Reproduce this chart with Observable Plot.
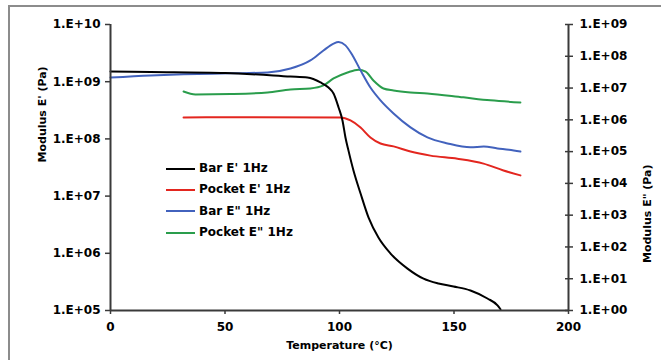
<!DOCTYPE html>
<html><head><meta charset="utf-8">
<script src="https://cdn.jsdelivr.net/npm/d3@7"></script>
<script src="https://cdn.jsdelivr.net/npm/@observablehq/plot@0.6"></script>
<style>
body{margin:0;background:#fff;}
#wrap{position:relative;width:661px;height:360px;overflow:hidden;font-family:"DejaVu Sans",sans-serif;font-weight:bold;background:#fff;}
#frame{position:absolute;left:8px;top:5px;width:700px;height:400px;border-left:2px solid #8c8c8c;border-top:2px solid #8c8c8c;}
#chart{position:absolute;left:0;top:0;}
#legend{position:absolute;left:166px;top:158px;font-size:12px;line-height:21.3px;color:#000;}
.row{display:flex;align-items:center;height:21.3px;}
.sw{width:29px;height:2px;margin-right:4px;}
</style>
</head><body>
<div id="wrap"><div id="frame"></div><div id="chart"></div><div id="legend"></div></div>
<script>
// Temperature (°C) and modulus (Pa) series
const barE1_T = [0,17.5,50.2,78.6,86.0,91.7,95.2,97.4,99.6,101.3,102.6,103.9,106.1,109.2,112.7,117.0,122.3,129.7,136.7,143.2,149.8,157.2,164.6,169.0,170.3];
const barE1_V = [1.51e9,1.48e9,1.42e9,1.23e9,1.18e9,9.7e8,7.9e8,6.2e8,3.54e8,2.1e8,1.06e8,6.3e7,2.8e7,1.11e7,4.2e6,1.89e6,9.9e5,5.4e5,3.6e5,2.96e5,2.63e5,2.24e5,1.62e5,1.23e5,1.05e5];

const pocketE1_T = [31.9,61.1,100.4,104.8,109.2,113.5,117.9,123.6,131.0,139.7,151.5,162.9,171.6,179.0];
const pocketE1_V = [2.37e8,2.4e8,2.37e8,2.1e8,1.58e8,1.06e8,8.3e7,7.4e7,6.0e7,5.1e7,4.5e7,3.7e7,2.8e7,2.3e7];

const barE2_T = [0,17.5,31.9,52.4,68.6,78.6,87.3,93.0,97.4,99.6,102.6,105.7,109.2,113.5,117.9,123.6,131.0,138.4,147.2,157.2,163.0,169.0,174.0,179.0];
const barE2_V = [2.15e7,2.5e7,2.7e7,2.9e7,3.1e7,4.1e7,7.4e7,1.52e8,2.5e8,2.8e8,2.2e8,1.06e8,3.6e7,1.04e7,4.1e6,1.59e6,5.8e5,2.8e5,1.81e5,1.36e5,1.45e5,1.26e5,1.15e5,1.01e5];

const pocketE2_T = [31.9,37.1,52.4,68.6,78.6,87.3,93.0,97.4,103.5,108.3,111.4,114.8,119.2,123.6,131.0,138.4,154.1,165.9,179.0];
const pocketE2_V = [7.8e6,6.3e6,6.5e6,7.3e6,9.0e6,9.7e6,1.21e7,2.0e7,3.1e7,3.8e7,3.3e7,1.73e7,9.7e6,8.4e6,7.3e6,6.8e6,5.1e6,4.1e6,3.5e6];

const seriesNames = ["Bar E' 1Hz","Pocket E' 1Hz",'Bar E" 1Hz','Pocket E" 1Hz'];
const seriesColors = ["#000000","#e3261f","#4262bd","#2a9d4c"];

const xTicks = [0,50,100,150,200];
const leftExp = [5,6,7,8,9,10];
const rightExp = [0,1,2,3,4,5,6,7,8,9];
const xTitle = "Temperature (°C)";
const yLeftTitle = "Modulus E' (Pa)";
const yRightTitle = 'Modulus E" (Pa)';

// right axis (1E+00..1E+09) mapped onto left scale (1E+05..1E+10)
const toLeft = v => Math.pow(10, 5 + Math.log10(v) * 5 / 9);
const expLabel = e => "1.E+" + String(e).padStart(2, "0");

const mk = (T, V, s, conv) => T.map((t, i) => ({T: t, v: conv ? toLeft(V[i]) : V[i], s}));
const data = [
  ...mk(barE1_T, barE1_V, 0, false),
  ...mk(pocketE1_T, pocketE1_V, 1, false),
  ...mk(barE2_T, barE2_V, 2, true),
  ...mk(pocketE2_T, pocketE2_V, 3, true)
];

const leftTicks = leftExp.map(e => Math.pow(10, e));
const rightTicks = rightExp.map(e => ({e, y: Math.pow(10, 5 + e * 5 / 9)}));
const axisColor = "#3a3a3a";

const lines = [3,2,1,0].map(s => Plot.line(data.filter(d => d.s === s), {x: "T", y: "v", stroke: seriesColors[s], strokeWidth: 2, curve: "monotone-x"}));

const chart = Plot.plot({
  width: 661, height: 360,
  marginLeft: 110, marginRight: 93, marginTop: 24, marginBottom: 50,
  style: {fontFamily: "DejaVu Sans, sans-serif", fontWeight: "bold", fontSize: "12px", background: "transparent", color: "#000", overflow: "visible"},
  x: {domain: [0, 200]},
  y: {type: "log", domain: [1e5, 1e10]},
  marks: [
    Plot.axisX(xTicks, {tickSize: 4, tickPadding: 8, stroke: axisColor, strokeWidth: 1.5, label: null, tickFormat: d => String(d)}),
    Plot.axisY(leftTicks, {anchor: "left", tickSize: 5, tickPadding: 5, stroke: axisColor, strokeWidth: 1.5, label: null, tickFormat: d => expLabel(Math.round(Math.log10(d)))}),
    Plot.axisY(rightTicks.map(d => d.y), {anchor: "right", tickSize: 8, dx: -4, fill: "none", stroke: axisColor, strokeWidth: 1.5, label: null}),
    Plot.text(rightTicks, {y: "y", text: d => expLabel(d.e), frameAnchor: "right", dx: 11, textAnchor: "start", fontSize: 12, fontWeight: "bold"}),
    ...lines,
    Plot.ruleX([0, 200], {stroke: axisColor, strokeWidth: 2}),
    Plot.ruleY([1e5], {stroke: axisColor, strokeWidth: 2}),
    Plot.text([xTitle], {frameAnchor: "bottom", dy: 38, fontSize: 11, fontWeight: "bold"}),
    Plot.text([yLeftTitle], {frameAnchor: "left", dx: -68, dy: -5, rotate: -90, fontSize: 11, fontWeight: "bold"}),
    Plot.text([yRightTitle], {frameAnchor: "right", dx: 79, dy: -3, rotate: -90, fontSize: 11, fontWeight: "bold"})
  ]
});
document.getElementById("chart").appendChild(chart);

const legend = document.getElementById("legend");
seriesNames.forEach((n, i) => {
  const r = document.createElement("div"); r.className = "row";
  const sw = document.createElement("div"); sw.className = "sw"; sw.style.background = seriesColors[i];
  const t = document.createElement("span"); t.textContent = n;
  r.appendChild(sw); r.appendChild(t); legend.appendChild(r);
});
</script>
</body></html>
